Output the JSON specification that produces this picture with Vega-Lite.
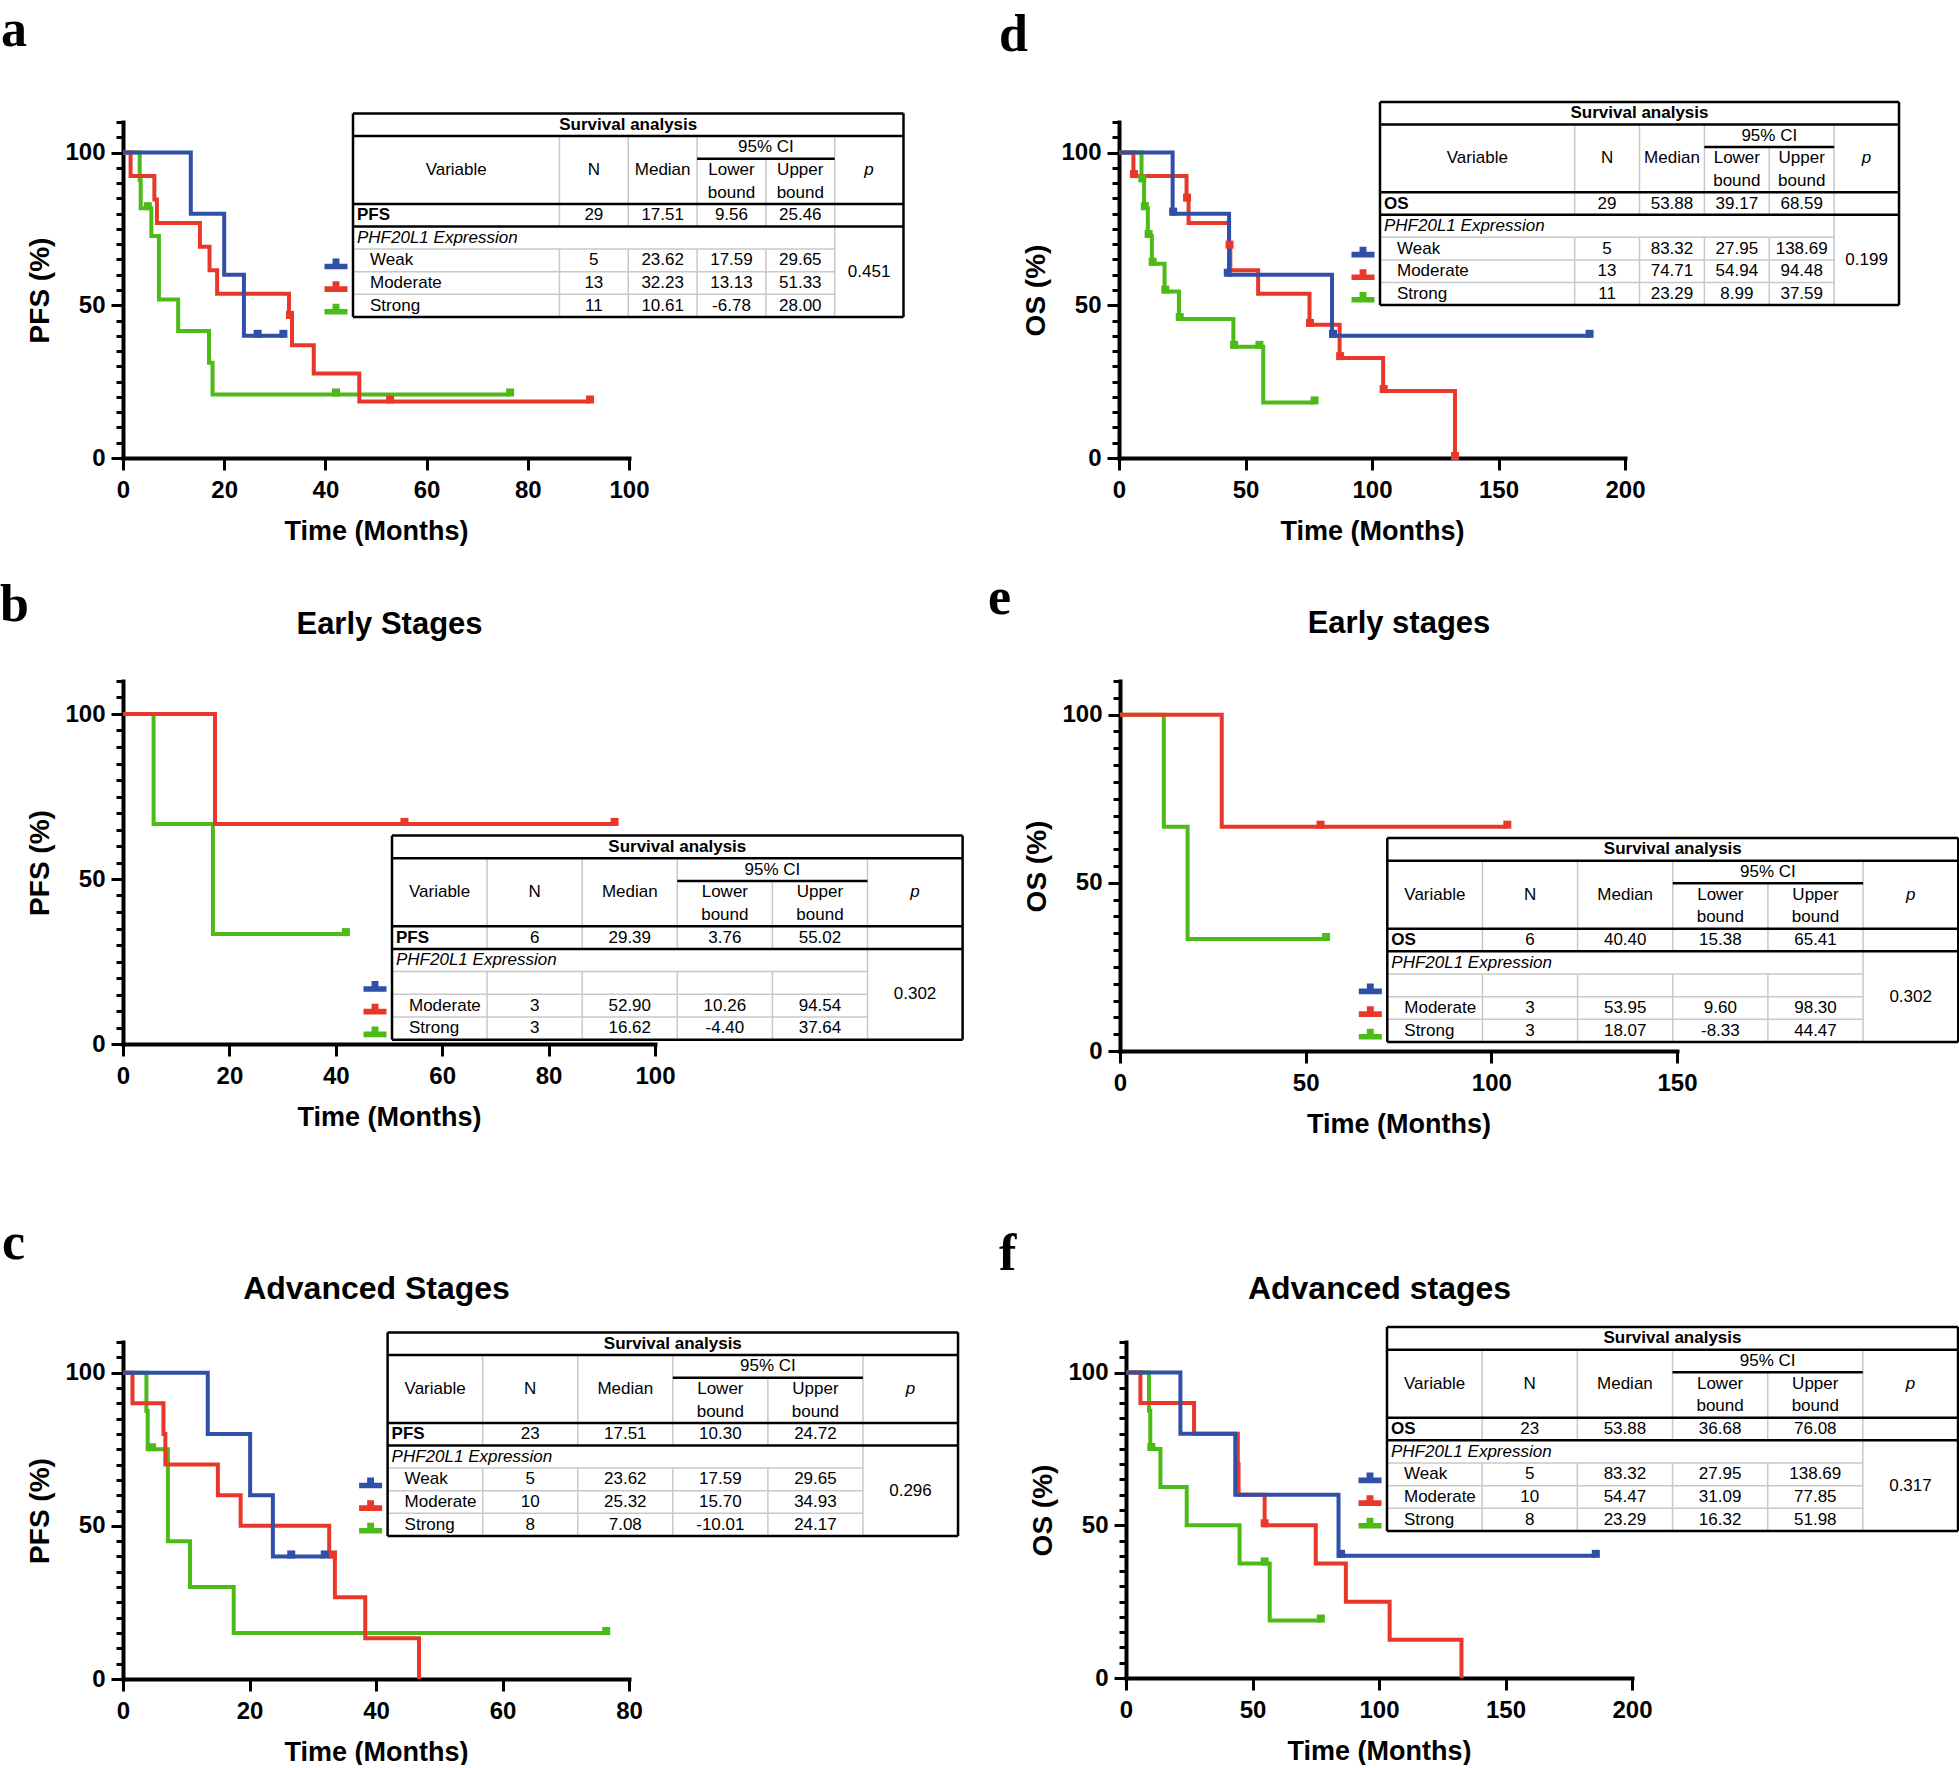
{
"$schema":"https://vega.github.io/schema/vega-lite/v6.json",
"padding":{"top":4,"left":0,"right":0,"bottom":0},
"background":"white",
"config":{"view":{"stroke":null},"font":"Liberation Sans",
"axis":{"domainColor":"black","tickColor":"black","labelColor":"black","titleColor":"black","grid":false,"labelFont":"Liberation Sans","titleFont":"Liberation Sans","labelFontWeight":"bold","titleFontWeight":"bold","labelFontSize":24,"titleFontSize":27,"domainWidth":4,"tickWidth":3,"domainCap":"square","labelFlush":false,"labelOverlap":false},
"axisX":{"tickSize":12,"labelPadding":8,"titlePadding":16},
"axisY":{"tickSize":12,"labelPadding":6,"titlePadding":10,"titleFontSize":28}},
"datasets":{
"grid":[{"c0":"Variable","c1":"p","r0":"weak","r1":"weak"},{"c0":"Variable","c1":"p","r0":"moderate","r1":"moderate"},{"c0":"Variable","c1":"p","r0":"strong","r1":"strong"},{"c0":"N","c1":"N","r0":"h1","r1":"phf"},{"c0":"N","c1":"N","r0":"weak","r1":"end"},{"c0":"Median","c1":"Median","r0":"h1","r1":"phf"},{"c0":"Median","c1":"Median","r0":"weak","r1":"end"},{"c0":"Lower","c1":"Lower","r0":"h1","r1":"phf"},{"c0":"Lower","c1":"Lower","r0":"weak","r1":"end"},{"c0":"Upper","c1":"Upper","r0":"h2","r1":"phf"},{"c0":"Upper","c1":"Upper","r0":"weak","r1":"end"},{"c0":"p","c1":"p","r0":"h1","r1":"end"}],
"border":[{"c0":"Variable","c1":"end","r0":"title","r1":"title"},{"c0":"Variable","c1":"end","r0":"h1","r1":"h1"},{"c0":"Variable","c1":"end","r0":"main","r1":"main"},{"c0":"Variable","c1":"end","r0":"phf","r1":"phf"},{"c0":"Variable","c1":"end","r0":"end","r1":"end"},{"c0":"Lower","c1":"p","r0":"h2","r1":"h2"},{"c0":"Variable","c1":"Variable","r0":"title","r1":"end"},{"c0":"end","c1":"end","r0":"title","r1":"end"}],
"leg":[{"g":"Weak","c":"Variable","r":"weak"},{"g":"Moderate","c":"Variable","r":"moderate"},{"g":"Strong","c":"Variable","r":"strong"}],
"km_a":[{"g":"Strong","t":0,"s":100},{"g":"Strong","t":3.3,"s":90.9},{"g":"Strong","t":3.5,"s":81.8},{"g":"Strong","t":5.6,"s":72.7},{"g":"Strong","t":7.1,"s":51.9},{"g":"Strong","t":10.9,"s":41.6},{"g":"Strong","t":17.0,"s":31.2},{"g":"Strong","t":17.7,"s":20.8},{"g":"Strong","t":76.5,"s":20.8},
{"g":"Moderate","t":0,"s":100},{"g":"Moderate","t":1.5,"s":92.3},{"g":"Moderate","t":6.2,"s":84.6},{"g":"Moderate","t":6.7,"s":76.9},{"g":"Moderate","t":15.2,"s":69.2},{"g":"Moderate","t":17.1,"s":61.5},{"g":"Moderate","t":18.6,"s":53.8},{"g":"Moderate","t":32.8,"s":46.2},{"g":"Moderate","t":33.4,"s":36.9},{"g":"Moderate","t":37.7,"s":27.7},{"g":"Moderate","t":46.7,"s":18.5},{"g":"Moderate","t":92.3,"s":18.5},
{"g":"Weak","t":0,"s":100},{"g":"Weak","t":13.4,"s":80},{"g":"Weak","t":20.0,"s":60},{"g":"Weak","t":23.9,"s":40},{"g":"Weak","t":31.7,"s":40}],
"cen_a":[{"g":"Strong","t":4.9,"s":81.8},{"g":"Strong","t":42.1,"s":20.8},{"g":"Strong","t":76.5,"s":20.8},{"g":"Moderate","t":33.0,"s":46.2},{"g":"Moderate","t":52.8,"s":18.5},{"g":"Moderate","t":92.3,"s":18.5},{"g":"Weak","t":26.6,"s":40},{"g":"Weak","t":31.7,"s":40}],
"km_d":[{"g":"Strong","t":0,"s":100},{"g":"Strong","t":8.9,"s":90.9},{"g":"Strong","t":9.9,"s":81.8},{"g":"Strong","t":11.4,"s":72.7},{"g":"Strong","t":13.0,"s":63.6},{"g":"Strong","t":18.0,"s":54.5},{"g":"Strong","t":23.7,"s":45.5},{"g":"Strong","t":45.2,"s":36.4},{"g":"Strong","t":57.0,"s":18.2},{"g":"Strong","t":77.3,"s":18.2},
{"g":"Moderate","t":0,"s":100},{"g":"Moderate","t":5.7,"s":92.3},{"g":"Moderate","t":26.7,"s":84.6},{"g":"Moderate","t":27.5,"s":76.9},{"g":"Moderate","t":43.5,"s":69.2},{"g":"Moderate","t":44.0,"s":61.5},{"g":"Moderate","t":55.0,"s":53.8},{"g":"Moderate","t":75.3,"s":43.6},{"g":"Moderate","t":87.2,"s":32.7},{"g":"Moderate","t":104.4,"s":21.9},{"g":"Moderate","t":132.8,"s":0},
{"g":"Weak","t":0,"s":100},{"g":"Weak","t":21.2,"s":80},{"g":"Weak","t":43.5,"s":60},{"g":"Weak","t":84.2,"s":40},{"g":"Weak","t":186,"s":40}],
"cen_d":[{"g":"Strong","t":9.2,"s":90.9},{"g":"Strong","t":10.2,"s":81.8},{"g":"Strong","t":11.7,"s":72.7},{"g":"Strong","t":13.3,"s":63.6},{"g":"Strong","t":18.3,"s":54.5},{"g":"Strong","t":24.0,"s":45.5},{"g":"Strong","t":45.5,"s":36.4},{"g":"Strong","t":55.5,"s":36.4},{"g":"Strong","t":77.3,"s":18.2},{"g":"Moderate","t":5.9,"s":92.3},{"g":"Moderate","t":26.9,"s":84.6},{"g":"Moderate","t":43.7,"s":69.2},{"g":"Moderate","t":75.5,"s":43.6},{"g":"Moderate","t":87.4,"s":32.7},{"g":"Moderate","t":104.6,"s":21.9},{"g":"Moderate","t":132.8,"s":0},{"g":"Weak","t":21.4,"s":80},{"g":"Weak","t":43.0,"s":60},{"g":"Weak","t":84.6,"s":40},{"g":"Weak","t":186,"s":40}],
"km_b":[{"g":"Strong","t":0,"s":100},{"g":"Strong","t":5.75,"s":66.7},{"g":"Strong","t":16.9,"s":33.3},{"g":"Strong","t":41.9,"s":33.3},{"g":"Moderate","t":0,"s":100},{"g":"Moderate","t":17.3,"s":66.7},{"g":"Moderate","t":92.4,"s":66.7}],
"cen_b":[{"g":"Strong","t":41.9,"s":33.3},{"g":"Moderate","t":52.9,"s":66.7},{"g":"Moderate","t":92.4,"s":66.7}],
"km_e":[{"g":"Strong","t":0,"s":100},{"g":"Strong","t":11.8,"s":66.7},{"g":"Strong","t":18.2,"s":33.3},{"g":"Strong","t":55.5,"s":33.3},{"g":"Moderate","t":0,"s":100},{"g":"Moderate","t":27.4,"s":66.7},{"g":"Moderate","t":104.3,"s":66.7}],
"cen_e":[{"g":"Strong","t":55.5,"s":33.3},{"g":"Moderate","t":54.0,"s":66.7},{"g":"Moderate","t":104.3,"s":66.7}],
"km_c":[{"g":"Strong","t":0,"s":100},{"g":"Strong","t":3.7,"s":87.5},{"g":"Strong","t":3.9,"s":75},{"g":"Strong","t":7.1,"s":45},{"g":"Strong","t":10.6,"s":30},{"g":"Strong","t":17.5,"s":15},{"g":"Strong","t":76.4,"s":15},
{"g":"Moderate","t":0,"s":100},{"g":"Moderate","t":1.5,"s":90},{"g":"Moderate","t":6.4,"s":80},{"g":"Moderate","t":6.7,"s":70},{"g":"Moderate","t":15.0,"s":60},{"g":"Moderate","t":18.6,"s":50},{"g":"Moderate","t":32.6,"s":40},{"g":"Moderate","t":33.5,"s":26.7},{"g":"Moderate","t":38.3,"s":13.3},{"g":"Moderate","t":46.8,"s":0},
{"g":"Weak","t":0,"s":100},{"g":"Weak","t":13.4,"s":80},{"g":"Weak","t":20.1,"s":60},{"g":"Weak","t":23.7,"s":40},{"g":"Weak","t":31.9,"s":40}],
"cen_c":[{"g":"Strong","t":4.6,"s":75},{"g":"Strong","t":76.4,"s":15},{"g":"Moderate","t":33.2,"s":40},{"g":"Weak","t":26.6,"s":40},{"g":"Weak","t":31.9,"s":40}],
"km_f":[{"g":"Strong","t":0,"s":100},{"g":"Strong","t":9.1,"s":87.5},{"g":"Strong","t":9.6,"s":75},{"g":"Strong","t":13.6,"s":62.5},{"g":"Strong","t":24.0,"s":50},{"g":"Strong","t":44.9,"s":37.5},{"g":"Strong","t":56.8,"s":18.8},{"g":"Strong","t":77.0,"s":18.8},
{"g":"Moderate","t":0,"s":100},{"g":"Moderate","t":5.7,"s":90},{"g":"Moderate","t":26.9,"s":80},{"g":"Moderate","t":44.2,"s":70},{"g":"Moderate","t":44.5,"s":60},{"g":"Moderate","t":54.8,"s":50},{"g":"Moderate","t":75.0,"s":37.5},{"g":"Moderate","t":86.9,"s":25},{"g":"Moderate","t":104.2,"s":12.5},{"g":"Moderate","t":132.6,"s":0},
{"g":"Weak","t":0,"s":100},{"g":"Weak","t":21.5,"s":80},{"g":"Weak","t":43.2,"s":60},{"g":"Weak","t":84.0,"s":40},{"g":"Weak","t":185.7,"s":40}],
"cen_f":[{"g":"Strong","t":10.0,"s":75},{"g":"Strong","t":54.8,"s":37.5},{"g":"Strong","t":77.0,"s":18.8},{"g":"Moderate","t":54.8,"s":50},{"g":"Weak","t":85.0,"s":40},{"g":"Weak","t":185.7,"s":40}],
"txt_a":[{"k":"title","c":"Median","r":"title","v":"Survival analysis"},{"k":"ci","c":"Upper","r":"h1","v":"95% CI"},{"k":"cell","c":"V2","r":"h2","v":"Variable"},{"k":"cell","c":"N","r":"h2","v":"N"},{"k":"cell","c":"Median","r":"h2","v":"Median"},{"k":"cell","c":"Lower","r":"h2","v":"Lower"},{"k":"cell","c":"Lower","r":"h3","v":"bound"},{"k":"cell","c":"Upper","r":"h2","v":"Upper"},{"k":"cell","c":"Upper","r":"h3","v":"bound"},{"k":"pi","c":"p","r":"h2","v":"p"},
{"k":"main","c":"Variable","r":"main","v":"PFS"},{"k":"cell","c":"N","r":"main","v":"29"},{"k":"cell","c":"Median","r":"main","v":"17.51"},{"k":"cell","c":"Lower","r":"main","v":"9.56"},{"k":"cell","c":"Upper","r":"main","v":"25.46"},
{"k":"sub","c":"Variable","r":"phf","v":"PHF20L1 Expression"},
{"k":"grp","c":"Variable","r":"weak","v":"Weak"},{"k":"cell","c":"N","r":"weak","v":"5"},{"k":"cell","c":"Median","r":"weak","v":"23.62"},{"k":"cell","c":"Lower","r":"weak","v":"17.59"},{"k":"cell","c":"Upper","r":"weak","v":"29.65"},
{"k":"grp","c":"Variable","r":"moderate","v":"Moderate"},{"k":"cell","c":"N","r":"moderate","v":"13"},{"k":"cell","c":"Median","r":"moderate","v":"32.23"},{"k":"cell","c":"Lower","r":"moderate","v":"13.13"},{"k":"cell","c":"Upper","r":"moderate","v":"51.33"},
{"k":"grp","c":"Variable","r":"strong","v":"Strong"},{"k":"cell","c":"N","r":"strong","v":"11"},{"k":"cell","c":"Median","r":"strong","v":"10.61"},{"k":"cell","c":"Lower","r":"strong","v":"-6.78"},{"k":"cell","c":"Upper","r":"strong","v":"28.00"},
{"k":"pval","c":"p","r":"moderate","v":"0.451"}],
"txt_d":[{"k":"title","c":"Median","r":"title","v":"Survival analysis"},{"k":"ci","c":"Upper","r":"h1","v":"95% CI"},{"k":"cell","c":"V2","r":"h2","v":"Variable"},{"k":"cell","c":"N","r":"h2","v":"N"},{"k":"cell","c":"Median","r":"h2","v":"Median"},{"k":"cell","c":"Lower","r":"h2","v":"Lower"},{"k":"cell","c":"Lower","r":"h3","v":"bound"},{"k":"cell","c":"Upper","r":"h2","v":"Upper"},{"k":"cell","c":"Upper","r":"h3","v":"bound"},{"k":"pi","c":"p","r":"h2","v":"p"},
{"k":"main","c":"Variable","r":"main","v":"OS"},{"k":"cell","c":"N","r":"main","v":"29"},{"k":"cell","c":"Median","r":"main","v":"53.88"},{"k":"cell","c":"Lower","r":"main","v":"39.17"},{"k":"cell","c":"Upper","r":"main","v":"68.59"},
{"k":"sub","c":"Variable","r":"phf","v":"PHF20L1 Expression"},
{"k":"grp","c":"Variable","r":"weak","v":"Weak"},{"k":"cell","c":"N","r":"weak","v":"5"},{"k":"cell","c":"Median","r":"weak","v":"83.32"},{"k":"cell","c":"Lower","r":"weak","v":"27.95"},{"k":"cell","c":"Upper","r":"weak","v":"138.69"},
{"k":"grp","c":"Variable","r":"moderate","v":"Moderate"},{"k":"cell","c":"N","r":"moderate","v":"13"},{"k":"cell","c":"Median","r":"moderate","v":"74.71"},{"k":"cell","c":"Lower","r":"moderate","v":"54.94"},{"k":"cell","c":"Upper","r":"moderate","v":"94.48"},
{"k":"grp","c":"Variable","r":"strong","v":"Strong"},{"k":"cell","c":"N","r":"strong","v":"11"},{"k":"cell","c":"Median","r":"strong","v":"23.29"},{"k":"cell","c":"Lower","r":"strong","v":"8.99"},{"k":"cell","c":"Upper","r":"strong","v":"37.59"},
{"k":"pval","c":"p","r":"moderate","v":"0.199"}],
"txt_b":[{"k":"title","c":"Lower","r":"title","v":"Survival analysis"},{"k":"ci","c":"Upper","r":"h1","v":"95% CI"},{"k":"cell","c":"Variable","r":"h2","v":"Variable"},{"k":"cell","c":"N","r":"h2","v":"N"},{"k":"cell","c":"Median","r":"h2","v":"Median"},{"k":"cell","c":"Lower","r":"h2","v":"Lower"},{"k":"cell","c":"Lower","r":"h3","v":"bound"},{"k":"cell","c":"Upper","r":"h2","v":"Upper"},{"k":"cell","c":"Upper","r":"h3","v":"bound"},{"k":"pi","c":"p","r":"h2","v":"p"},
{"k":"main","c":"Variable","r":"main","v":"PFS"},{"k":"cell","c":"N","r":"main","v":"6"},{"k":"cell","c":"Median","r":"main","v":"29.39"},{"k":"cell","c":"Lower","r":"main","v":"3.76"},{"k":"cell","c":"Upper","r":"main","v":"55.02"},
{"k":"sub","c":"Variable","r":"phf","v":"PHF20L1 Expression"},
{"k":"grp","c":"Variable","r":"moderate","v":"Moderate"},{"k":"cell","c":"N","r":"moderate","v":"3"},{"k":"cell","c":"Median","r":"moderate","v":"52.90"},{"k":"cell","c":"Lower","r":"moderate","v":"10.26"},{"k":"cell","c":"Upper","r":"moderate","v":"94.54"},
{"k":"grp","c":"Variable","r":"strong","v":"Strong"},{"k":"cell","c":"N","r":"strong","v":"3"},{"k":"cell","c":"Median","r":"strong","v":"16.62"},{"k":"cell","c":"Lower","r":"strong","v":"-4.40"},{"k":"cell","c":"Upper","r":"strong","v":"37.64"},
{"k":"pval","c":"p","r":"moderate","v":"0.302"}],
"txt_e":[{"k":"title","c":"Lower","r":"title","v":"Survival analysis"},{"k":"ci","c":"Upper","r":"h1","v":"95% CI"},{"k":"cell","c":"Variable","r":"h2","v":"Variable"},{"k":"cell","c":"N","r":"h2","v":"N"},{"k":"cell","c":"Median","r":"h2","v":"Median"},{"k":"cell","c":"Lower","r":"h2","v":"Lower"},{"k":"cell","c":"Lower","r":"h3","v":"bound"},{"k":"cell","c":"Upper","r":"h2","v":"Upper"},{"k":"cell","c":"Upper","r":"h3","v":"bound"},{"k":"pi","c":"p","r":"h2","v":"p"},
{"k":"main","c":"Variable","r":"main","v":"OS"},{"k":"cell","c":"N","r":"main","v":"6"},{"k":"cell","c":"Median","r":"main","v":"40.40"},{"k":"cell","c":"Lower","r":"main","v":"15.38"},{"k":"cell","c":"Upper","r":"main","v":"65.41"},
{"k":"sub","c":"Variable","r":"phf","v":"PHF20L1 Expression"},
{"k":"grp","c":"Variable","r":"moderate","v":"Moderate"},{"k":"cell","c":"N","r":"moderate","v":"3"},{"k":"cell","c":"Median","r":"moderate","v":"53.95"},{"k":"cell","c":"Lower","r":"moderate","v":"9.60"},{"k":"cell","c":"Upper","r":"moderate","v":"98.30"},
{"k":"grp","c":"Variable","r":"strong","v":"Strong"},{"k":"cell","c":"N","r":"strong","v":"3"},{"k":"cell","c":"Median","r":"strong","v":"18.07"},{"k":"cell","c":"Lower","r":"strong","v":"-8.33"},{"k":"cell","c":"Upper","r":"strong","v":"44.47"},
{"k":"pval","c":"p","r":"moderate","v":"0.302"}],
"txt_c":[{"k":"title","c":"Lower","r":"title","v":"Survival analysis"},{"k":"ci","c":"Upper","r":"h1","v":"95% CI"},{"k":"cell","c":"Variable","r":"h2","v":"Variable"},{"k":"cell","c":"N","r":"h2","v":"N"},{"k":"cell","c":"Median","r":"h2","v":"Median"},{"k":"cell","c":"Lower","r":"h2","v":"Lower"},{"k":"cell","c":"Lower","r":"h3","v":"bound"},{"k":"cell","c":"Upper","r":"h2","v":"Upper"},{"k":"cell","c":"Upper","r":"h3","v":"bound"},{"k":"pi","c":"p","r":"h2","v":"p"},
{"k":"main","c":"Variable","r":"main","v":"PFS"},{"k":"cell","c":"N","r":"main","v":"23"},{"k":"cell","c":"Median","r":"main","v":"17.51"},{"k":"cell","c":"Lower","r":"main","v":"10.30"},{"k":"cell","c":"Upper","r":"main","v":"24.72"},
{"k":"sub","c":"Variable","r":"phf","v":"PHF20L1 Expression"},
{"k":"grp","c":"Variable","r":"weak","v":"Weak"},{"k":"cell","c":"N","r":"weak","v":"5"},{"k":"cell","c":"Median","r":"weak","v":"23.62"},{"k":"cell","c":"Lower","r":"weak","v":"17.59"},{"k":"cell","c":"Upper","r":"weak","v":"29.65"},
{"k":"grp","c":"Variable","r":"moderate","v":"Moderate"},{"k":"cell","c":"N","r":"moderate","v":"10"},{"k":"cell","c":"Median","r":"moderate","v":"25.32"},{"k":"cell","c":"Lower","r":"moderate","v":"15.70"},{"k":"cell","c":"Upper","r":"moderate","v":"34.93"},
{"k":"grp","c":"Variable","r":"strong","v":"Strong"},{"k":"cell","c":"N","r":"strong","v":"8"},{"k":"cell","c":"Median","r":"strong","v":"7.08"},{"k":"cell","c":"Lower","r":"strong","v":"-10.01"},{"k":"cell","c":"Upper","r":"strong","v":"24.17"},
{"k":"pval","c":"p","r":"moderate","v":"0.296"}],
"txt_f":[{"k":"title","c":"Lower","r":"title","v":"Survival analysis"},{"k":"ci","c":"Upper","r":"h1","v":"95% CI"},{"k":"cell","c":"Variable","r":"h2","v":"Variable"},{"k":"cell","c":"N","r":"h2","v":"N"},{"k":"cell","c":"Median","r":"h2","v":"Median"},{"k":"cell","c":"Lower","r":"h2","v":"Lower"},{"k":"cell","c":"Lower","r":"h3","v":"bound"},{"k":"cell","c":"Upper","r":"h2","v":"Upper"},{"k":"cell","c":"Upper","r":"h3","v":"bound"},{"k":"pi","c":"p","r":"h2","v":"p"},
{"k":"main","c":"Variable","r":"main","v":"OS"},{"k":"cell","c":"N","r":"main","v":"23"},{"k":"cell","c":"Median","r":"main","v":"53.88"},{"k":"cell","c":"Lower","r":"main","v":"36.68"},{"k":"cell","c":"Upper","r":"main","v":"76.08"},
{"k":"sub","c":"Variable","r":"phf","v":"PHF20L1 Expression"},
{"k":"grp","c":"Variable","r":"weak","v":"Weak"},{"k":"cell","c":"N","r":"weak","v":"5"},{"k":"cell","c":"Median","r":"weak","v":"83.32"},{"k":"cell","c":"Lower","r":"weak","v":"27.95"},{"k":"cell","c":"Upper","r":"weak","v":"138.69"},
{"k":"grp","c":"Variable","r":"moderate","v":"Moderate"},{"k":"cell","c":"N","r":"moderate","v":"10"},{"k":"cell","c":"Median","r":"moderate","v":"54.47"},{"k":"cell","c":"Lower","r":"moderate","v":"31.09"},{"k":"cell","c":"Upper","r":"moderate","v":"77.85"},
{"k":"grp","c":"Variable","r":"strong","v":"Strong"},{"k":"cell","c":"N","r":"strong","v":"8"},{"k":"cell","c":"Median","r":"strong","v":"23.29"},{"k":"cell","c":"Lower","r":"strong","v":"16.32"},{"k":"cell","c":"Upper","r":"strong","v":"51.98"},
{"k":"pval","c":"p","r":"moderate","v":"0.317"}]
},
"vconcat":[
{"vconcat":[
{"hconcat":[
{"width":506,"height":336,
"title":{"text":"a","anchor":"start","frame":"group","dx":-122,"dy":-14,"offset":0,"baseline":"alphabetic","font":"Liberation Serif","fontSize":52,"fontWeight":"bold","color":"black"},
"layer":[
{"data":{"name":"km_a"},"mark":{"type":"line","interpolate":"step-after","strokeWidth":4},"encoding":{"x":{"field":"t","type":"quantitative","scale":{"domain":[0,100],"nice":false,"zero":false},"axis":{"orient":"bottom","values":[0,20,40,60,80,100],"title":"Time (Months)"}},"y":{"field":"s","type":"quantitative","scale":{"domain":[0,110],"nice":false,"zero":false},"axis":{"orient":"left","values":[0,50,100],"title":"PFS (%)"}},"color":{"field":"g","type":"nominal","scale":{"domain":["Weak","Moderate","Strong"],"range":["#2f4fa8","#e8382a","#4dbb17"]},"legend":null}}},
{"data":{"name":"cen_a"},"mark":{"type":"point","shape":"square","size":64,"filled":true,"opacity":1,"strokeWidth":0,"yOffset":-2},"encoding":{"x":{"field":"t","type":"quantitative","scale":{"domain":[0,100],"nice":false,"zero":false},"axis":null},"y":{"field":"s","type":"quantitative","scale":{"domain":[0,110],"nice":false,"zero":false},"axis":{"orient":"left","values":[0,5,10,15,20,25,30,35,40,45,50,55,60,65,70,75,80,85,90,95,100,105,110],"labels":false,"title":null,"tickSize":7,"domain":false}},"color":{"field":"g","type":"nominal","scale":{"domain":["Weak","Moderate","Strong"],"range":["#2f4fa8","#e8382a","#4dbb17"]},"legend":null}}},
{"layer":[
{"data":{"name":"grid"},"mark":{"type":"rule","color":"#c8c8c8","strokeWidth":1.5},"encoding":{"x":{"field":"c0","type":"ordinal","bandPosition":0,"scale":{"type":"band","domain":["Variable","V2","V3","N","Median","Lower","Upper","p","end"],"range":[230,849.3],"paddingInner":0,"paddingOuter":0},"axis":null},"x2":{"field":"c1","bandPosition":0},"y":{"field":"r0","type":"ordinal","bandPosition":0,"scale":{"type":"band","domain":["title","h1","h2","h3","main","phf","weak","moderate","strong","end"],"range":[-8.6,217.6],"paddingInner":0,"paddingOuter":0},"axis":null},"y2":{"field":"r1","bandPosition":0}}},
{"data":{"name":"border"},"mark":{"type":"rule","color":"black","strokeWidth":2.5},"encoding":{"x":{"field":"c0","type":"ordinal","bandPosition":0,"scale":{"type":"band","domain":["Variable","V2","V3","N","Median","Lower","Upper","p","end"],"range":[230,849.3],"paddingInner":0,"paddingOuter":0},"axis":null},"x2":{"field":"c1","bandPosition":0},"y":{"field":"r0","type":"ordinal","bandPosition":0,"scale":{"type":"band","domain":["title","h1","h2","h3","main","phf","weak","moderate","strong","end"],"range":[-8.6,217.6],"paddingInner":0,"paddingOuter":0},"axis":null},"y2":{"field":"r1","bandPosition":0}}},
{"data":{"name":"txt_a"},"transform":[{"filter":"datum.k==='cell'"}],"mark":{"type":"text","font":"Liberation Sans","fontSize":17,"color":"black","align":"center","baseline":"middle"},"encoding":{"x":{"field":"c","type":"ordinal","bandPosition":0.5,"scale":{"type":"band","domain":["Variable","V2","V3","N","Median","Lower","Upper","p","end"],"range":[230,849.3],"paddingInner":0,"paddingOuter":0},"axis":null},"y":{"field":"r","type":"ordinal","bandPosition":0.5,"scale":{"type":"band","domain":["title","h1","h2","h3","main","phf","weak","moderate","strong","end"],"range":[-8.6,217.6],"paddingInner":0,"paddingOuter":0},"axis":null},"text":{"field":"v"}}},
{"data":{"name":"txt_a"},"transform":[{"filter":"datum.k==='ci'"}],"mark":{"type":"text","font":"Liberation Sans","fontSize":17,"color":"black","align":"center","baseline":"middle"},"encoding":{"x":{"field":"c","type":"ordinal","bandPosition":0,"scale":{"type":"band","domain":["Variable","V2","V3","N","Median","Lower","Upper","p","end"],"range":[230,849.3],"paddingInner":0,"paddingOuter":0},"axis":null},"y":{"field":"r","type":"ordinal","bandPosition":0.5,"scale":{"type":"band","domain":["title","h1","h2","h3","main","phf","weak","moderate","strong","end"],"range":[-8.6,217.6],"paddingInner":0,"paddingOuter":0},"axis":null},"text":{"field":"v"}}},
{"data":{"name":"txt_a"},"transform":[{"filter":"datum.k==='title'"}],"mark":{"type":"text","font":"Liberation Sans","fontSize":17,"fontWeight":"bold","color":"black","align":"center","baseline":"middle"},"encoding":{"x":{"field":"c","type":"ordinal","bandPosition":0,"scale":{"type":"band","domain":["Variable","V2","V3","N","Median","Lower","Upper","p","end"],"range":[230,849.3],"paddingInner":0,"paddingOuter":0},"axis":null},"y":{"field":"r","type":"ordinal","bandPosition":0.5,"scale":{"type":"band","domain":["title","h1","h2","h3","main","phf","weak","moderate","strong","end"],"range":[-8.6,217.6],"paddingInner":0,"paddingOuter":0},"axis":null},"text":{"field":"v"}}},
{"data":{"name":"txt_a"},"transform":[{"filter":"datum.k==='pi'"}],"mark":{"type":"text","font":"Liberation Sans","fontSize":17,"fontStyle":"italic","color":"black","align":"center","baseline":"middle"},"encoding":{"x":{"field":"c","type":"ordinal","bandPosition":0.5,"scale":{"type":"band","domain":["Variable","V2","V3","N","Median","Lower","Upper","p","end"],"range":[230,849.3],"paddingInner":0,"paddingOuter":0},"axis":null},"y":{"field":"r","type":"ordinal","bandPosition":0.5,"scale":{"type":"band","domain":["title","h1","h2","h3","main","phf","weak","moderate","strong","end"],"range":[-8.6,217.6],"paddingInner":0,"paddingOuter":0},"axis":null},"text":{"field":"v"}}},
{"data":{"name":"txt_a"},"transform":[{"filter":"datum.k==='main'"}],"mark":{"type":"text","font":"Liberation Sans","fontSize":17,"fontWeight":"bold","color":"black","align":"left","baseline":"middle","dx":4},"encoding":{"x":{"field":"c","type":"ordinal","bandPosition":0,"scale":{"type":"band","domain":["Variable","V2","V3","N","Median","Lower","Upper","p","end"],"range":[230,849.3],"paddingInner":0,"paddingOuter":0},"axis":null},"y":{"field":"r","type":"ordinal","bandPosition":0.5,"scale":{"type":"band","domain":["title","h1","h2","h3","main","phf","weak","moderate","strong","end"],"range":[-8.6,217.6],"paddingInner":0,"paddingOuter":0},"axis":null},"text":{"field":"v"}}},
{"data":{"name":"txt_a"},"transform":[{"filter":"datum.k==='sub'"}],"mark":{"type":"text","font":"Liberation Sans","fontSize":17,"fontStyle":"italic","color":"black","align":"left","baseline":"middle","dx":4},"encoding":{"x":{"field":"c","type":"ordinal","bandPosition":0,"scale":{"type":"band","domain":["Variable","V2","V3","N","Median","Lower","Upper","p","end"],"range":[230,849.3],"paddingInner":0,"paddingOuter":0},"axis":null},"y":{"field":"r","type":"ordinal","bandPosition":0.5,"scale":{"type":"band","domain":["title","h1","h2","h3","main","phf","weak","moderate","strong","end"],"range":[-8.6,217.6],"paddingInner":0,"paddingOuter":0},"axis":null},"text":{"field":"v"}}},
{"data":{"name":"txt_a"},"transform":[{"filter":"datum.k==='grp'"}],"mark":{"type":"text","font":"Liberation Sans","fontSize":17,"color":"black","align":"left","baseline":"middle","dx":17},"encoding":{"x":{"field":"c","type":"ordinal","bandPosition":0,"scale":{"type":"band","domain":["Variable","V2","V3","N","Median","Lower","Upper","p","end"],"range":[230,849.3],"paddingInner":0,"paddingOuter":0},"axis":null},"y":{"field":"r","type":"ordinal","bandPosition":0.5,"scale":{"type":"band","domain":["title","h1","h2","h3","main","phf","weak","moderate","strong","end"],"range":[-8.6,217.6],"paddingInner":0,"paddingOuter":0},"axis":null},"text":{"field":"v"}}},
{"data":{"name":"txt_a"},"transform":[{"filter":"datum.k==='pval'"}],"mark":{"type":"text","font":"Liberation Sans","fontSize":17,"color":"black","align":"center","baseline":"middle"},"encoding":{"x":{"field":"c","type":"ordinal","bandPosition":0.5,"scale":{"type":"band","domain":["Variable","V2","V3","N","Median","Lower","Upper","p","end"],"range":[230,849.3],"paddingInner":0,"paddingOuter":0},"axis":null},"y":{"field":"r","type":"ordinal","bandPosition":0,"scale":{"type":"band","domain":["title","h1","h2","h3","main","phf","weak","moderate","strong","end"],"range":[-8.6,217.6],"paddingInner":0,"paddingOuter":0},"axis":null},"text":{"field":"v"}}},
{"data":{"name":"leg"},"mark":{"type":"point","shape":"M-1,0.28H-0.3V-0.16H0.3V0.28H1V0.77H-1Z","size":529,"filled":true,"opacity":1,"strokeWidth":0,"xOffset":-17},"encoding":{"x":{"field":"c","type":"ordinal","bandPosition":0,"scale":{"type":"band","domain":["Variable","V2","V3","N","Median","Lower","Upper","p","end"],"range":[230,849.3],"paddingInner":0,"paddingOuter":0},"axis":null},"y":{"field":"r","type":"ordinal","bandPosition":0.5,"scale":{"type":"band","domain":["title","h1","h2","h3","main","phf","weak","moderate","strong","end"],"range":[-8.6,217.6],"paddingInner":0,"paddingOuter":0},"axis":null},"color":{"field":"g","type":"nominal","scale":{"domain":["Weak","Moderate","Strong"],"range":["#2f4fa8","#e8382a","#4dbb17"]},"legend":null}}}
]}
],
"resolve":{"scale":{"x":"independent","y":"independent"}}},
{"width":506,"height":336,
"title":{"text":"d","anchor":"start","frame":"group","dx":-120,"dy":2,"offset":0,"baseline":"alphabetic","font":"Liberation Serif","fontSize":52,"fontWeight":"bold","color":"black"},
"layer":[
{"data":{"name":"km_d"},"mark":{"type":"line","interpolate":"step-after","strokeWidth":4},"encoding":{"x":{"field":"t","type":"quantitative","scale":{"domain":[0,200],"nice":false,"zero":false},"axis":{"orient":"bottom","values":[0,50,100,150,200],"title":"Time (Months)"}},"y":{"field":"s","type":"quantitative","scale":{"domain":[0,110],"nice":false,"zero":false},"axis":{"orient":"left","values":[0,50,100],"title":"OS (%)"}},"color":{"field":"g","type":"nominal","scale":{"domain":["Weak","Moderate","Strong"],"range":["#2f4fa8","#e8382a","#4dbb17"]},"legend":null}}},
{"data":{"name":"cen_d"},"mark":{"type":"point","shape":"square","size":64,"filled":true,"opacity":1,"strokeWidth":0,"yOffset":-2},"encoding":{"x":{"field":"t","type":"quantitative","scale":{"domain":[0,200],"nice":false,"zero":false},"axis":null},"y":{"field":"s","type":"quantitative","scale":{"domain":[0,110],"nice":false,"zero":false},"axis":{"orient":"left","values":[0,5,10,15,20,25,30,35,40,45,50,55,60,65,70,75,80,85,90,95,100,105,110],"labels":false,"title":null,"tickSize":7,"domain":false}},"color":{"field":"g","type":"nominal","scale":{"domain":["Weak","Moderate","Strong"],"range":["#2f4fa8","#e8382a","#4dbb17"]},"legend":null}}},
{"layer":[
{"data":{"name":"grid"},"mark":{"type":"rule","color":"#c8c8c8","strokeWidth":1.5},"encoding":{"x":{"field":"c0","type":"ordinal","bandPosition":0,"scale":{"type":"band","domain":["Variable","V2","V3","N","Median","Lower","Upper","p","end"],"range":[261,844.9],"paddingInner":0,"paddingOuter":0},"axis":null},"x2":{"field":"c1","bandPosition":0},"y":{"field":"r0","type":"ordinal","bandPosition":0,"scale":{"type":"band","domain":["title","h1","h2","h3","main","phf","weak","moderate","strong","end"],"range":[-20,205.6],"paddingInner":0,"paddingOuter":0},"axis":null},"y2":{"field":"r1","bandPosition":0}}},
{"data":{"name":"border"},"mark":{"type":"rule","color":"black","strokeWidth":2.5},"encoding":{"x":{"field":"c0","type":"ordinal","bandPosition":0,"scale":{"type":"band","domain":["Variable","V2","V3","N","Median","Lower","Upper","p","end"],"range":[261,844.9],"paddingInner":0,"paddingOuter":0},"axis":null},"x2":{"field":"c1","bandPosition":0},"y":{"field":"r0","type":"ordinal","bandPosition":0,"scale":{"type":"band","domain":["title","h1","h2","h3","main","phf","weak","moderate","strong","end"],"range":[-20,205.6],"paddingInner":0,"paddingOuter":0},"axis":null},"y2":{"field":"r1","bandPosition":0}}},
{"data":{"name":"txt_d"},"transform":[{"filter":"datum.k==='cell'"}],"mark":{"type":"text","font":"Liberation Sans","fontSize":17,"color":"black","align":"center","baseline":"middle"},"encoding":{"x":{"field":"c","type":"ordinal","bandPosition":0.5,"scale":{"type":"band","domain":["Variable","V2","V3","N","Median","Lower","Upper","p","end"],"range":[261,844.9],"paddingInner":0,"paddingOuter":0},"axis":null},"y":{"field":"r","type":"ordinal","bandPosition":0.5,"scale":{"type":"band","domain":["title","h1","h2","h3","main","phf","weak","moderate","strong","end"],"range":[-20,205.6],"paddingInner":0,"paddingOuter":0},"axis":null},"text":{"field":"v"}}},
{"data":{"name":"txt_d"},"transform":[{"filter":"datum.k==='ci'"}],"mark":{"type":"text","font":"Liberation Sans","fontSize":17,"color":"black","align":"center","baseline":"middle"},"encoding":{"x":{"field":"c","type":"ordinal","bandPosition":0,"scale":{"type":"band","domain":["Variable","V2","V3","N","Median","Lower","Upper","p","end"],"range":[261,844.9],"paddingInner":0,"paddingOuter":0},"axis":null},"y":{"field":"r","type":"ordinal","bandPosition":0.5,"scale":{"type":"band","domain":["title","h1","h2","h3","main","phf","weak","moderate","strong","end"],"range":[-20,205.6],"paddingInner":0,"paddingOuter":0},"axis":null},"text":{"field":"v"}}},
{"data":{"name":"txt_d"},"transform":[{"filter":"datum.k==='title'"}],"mark":{"type":"text","font":"Liberation Sans","fontSize":17,"fontWeight":"bold","color":"black","align":"center","baseline":"middle"},"encoding":{"x":{"field":"c","type":"ordinal","bandPosition":0,"scale":{"type":"band","domain":["Variable","V2","V3","N","Median","Lower","Upper","p","end"],"range":[261,844.9],"paddingInner":0,"paddingOuter":0},"axis":null},"y":{"field":"r","type":"ordinal","bandPosition":0.5,"scale":{"type":"band","domain":["title","h1","h2","h3","main","phf","weak","moderate","strong","end"],"range":[-20,205.6],"paddingInner":0,"paddingOuter":0},"axis":null},"text":{"field":"v"}}},
{"data":{"name":"txt_d"},"transform":[{"filter":"datum.k==='pi'"}],"mark":{"type":"text","font":"Liberation Sans","fontSize":17,"fontStyle":"italic","color":"black","align":"center","baseline":"middle"},"encoding":{"x":{"field":"c","type":"ordinal","bandPosition":0.5,"scale":{"type":"band","domain":["Variable","V2","V3","N","Median","Lower","Upper","p","end"],"range":[261,844.9],"paddingInner":0,"paddingOuter":0},"axis":null},"y":{"field":"r","type":"ordinal","bandPosition":0.5,"scale":{"type":"band","domain":["title","h1","h2","h3","main","phf","weak","moderate","strong","end"],"range":[-20,205.6],"paddingInner":0,"paddingOuter":0},"axis":null},"text":{"field":"v"}}},
{"data":{"name":"txt_d"},"transform":[{"filter":"datum.k==='main'"}],"mark":{"type":"text","font":"Liberation Sans","fontSize":17,"fontWeight":"bold","color":"black","align":"left","baseline":"middle","dx":4},"encoding":{"x":{"field":"c","type":"ordinal","bandPosition":0,"scale":{"type":"band","domain":["Variable","V2","V3","N","Median","Lower","Upper","p","end"],"range":[261,844.9],"paddingInner":0,"paddingOuter":0},"axis":null},"y":{"field":"r","type":"ordinal","bandPosition":0.5,"scale":{"type":"band","domain":["title","h1","h2","h3","main","phf","weak","moderate","strong","end"],"range":[-20,205.6],"paddingInner":0,"paddingOuter":0},"axis":null},"text":{"field":"v"}}},
{"data":{"name":"txt_d"},"transform":[{"filter":"datum.k==='sub'"}],"mark":{"type":"text","font":"Liberation Sans","fontSize":17,"fontStyle":"italic","color":"black","align":"left","baseline":"middle","dx":4},"encoding":{"x":{"field":"c","type":"ordinal","bandPosition":0,"scale":{"type":"band","domain":["Variable","V2","V3","N","Median","Lower","Upper","p","end"],"range":[261,844.9],"paddingInner":0,"paddingOuter":0},"axis":null},"y":{"field":"r","type":"ordinal","bandPosition":0.5,"scale":{"type":"band","domain":["title","h1","h2","h3","main","phf","weak","moderate","strong","end"],"range":[-20,205.6],"paddingInner":0,"paddingOuter":0},"axis":null},"text":{"field":"v"}}},
{"data":{"name":"txt_d"},"transform":[{"filter":"datum.k==='grp'"}],"mark":{"type":"text","font":"Liberation Sans","fontSize":17,"color":"black","align":"left","baseline":"middle","dx":17},"encoding":{"x":{"field":"c","type":"ordinal","bandPosition":0,"scale":{"type":"band","domain":["Variable","V2","V3","N","Median","Lower","Upper","p","end"],"range":[261,844.9],"paddingInner":0,"paddingOuter":0},"axis":null},"y":{"field":"r","type":"ordinal","bandPosition":0.5,"scale":{"type":"band","domain":["title","h1","h2","h3","main","phf","weak","moderate","strong","end"],"range":[-20,205.6],"paddingInner":0,"paddingOuter":0},"axis":null},"text":{"field":"v"}}},
{"data":{"name":"txt_d"},"transform":[{"filter":"datum.k==='pval'"}],"mark":{"type":"text","font":"Liberation Sans","fontSize":17,"color":"black","align":"center","baseline":"middle"},"encoding":{"x":{"field":"c","type":"ordinal","bandPosition":0.5,"scale":{"type":"band","domain":["Variable","V2","V3","N","Median","Lower","Upper","p","end"],"range":[261,844.9],"paddingInner":0,"paddingOuter":0},"axis":null},"y":{"field":"r","type":"ordinal","bandPosition":0,"scale":{"type":"band","domain":["title","h1","h2","h3","main","phf","weak","moderate","strong","end"],"range":[-20,205.6],"paddingInner":0,"paddingOuter":0},"axis":null},"text":{"field":"v"}}},
{"data":{"name":"leg"},"mark":{"type":"point","shape":"M-1,0.28H-0.3V-0.16H0.3V0.28H1V0.77H-1Z","size":529,"filled":true,"opacity":1,"strokeWidth":0,"xOffset":-17},"encoding":{"x":{"field":"c","type":"ordinal","bandPosition":0,"scale":{"type":"band","domain":["Variable","V2","V3","N","Median","Lower","Upper","p","end"],"range":[261,844.9],"paddingInner":0,"paddingOuter":0},"axis":null},"y":{"field":"r","type":"ordinal","bandPosition":0.5,"scale":{"type":"band","domain":["title","h1","h2","h3","main","phf","weak","moderate","strong","end"],"range":[-20,205.6],"paddingInner":0,"paddingOuter":0},"axis":null},"color":{"field":"g","type":"nominal","scale":{"domain":["Weak","Moderate","Strong"],"range":["#2f4fa8","#e8382a","#4dbb17"]},"legend":null}}}
]}
],
"resolve":{"scale":{"x":"independent","y":"independent"}}}
],"spacing":94},
{"hconcat":[
{"width":532,"height":363,
"title":{"text":"b","anchor":"start","frame":"group","dx":-123,"dy":65,"offset":0,"baseline":"alphabetic","font":"Liberation Serif","fontSize":52,"fontWeight":"bold","color":"black"},
"layer":[
{"data":{"name":"km_b"},"mark":{"type":"line","interpolate":"step-after","strokeWidth":4},"encoding":{"x":{"field":"t","type":"quantitative","scale":{"domain":[0,100],"nice":false,"zero":false},"axis":{"orient":"bottom","values":[0,20,40,60,80,100],"title":"Time (Months)"}},"y":{"field":"s","type":"quantitative","scale":{"domain":[0,110],"nice":false,"zero":false},"axis":{"orient":"left","values":[0,50,100],"title":"PFS (%)"}},"color":{"field":"g","type":"nominal","scale":{"domain":["Weak","Moderate","Strong"],"range":["#2f4fa8","#e8382a","#4dbb17"]},"legend":null}}},
{"data":{"name":"cen_b"},"mark":{"type":"point","shape":"square","size":64,"filled":true,"opacity":1,"strokeWidth":0,"yOffset":-2},"encoding":{"x":{"field":"t","type":"quantitative","scale":{"domain":[0,100],"nice":false,"zero":false},"axis":{"orient":"top","title":"Early Stages","domain":false,"ticks":false,"labels":false,"titleFontSize":31,"titlePadding":48,"titleBaseline":"alphabetic"}},"y":{"field":"s","type":"quantitative","scale":{"domain":[0,110],"nice":false,"zero":false},"axis":{"orient":"left","values":[0,5,10,15,20,25,30,35,40,45,50,55,60,65,70,75,80,85,90,95,100,105,110],"labels":false,"title":null,"tickSize":7,"domain":false}},"color":{"field":"g","type":"nominal","scale":{"domain":["Weak","Moderate","Strong"],"range":["#2f4fa8","#e8382a","#4dbb17"]},"legend":null}}},
{"layer":[
{"data":{"name":"grid"},"mark":{"type":"rule","color":"#c8c8c8","strokeWidth":1.5},"encoding":{"x":{"field":"c0","type":"ordinal","bandPosition":0,"scale":{"type":"band","domain":["Variable","N","Median","Lower","Upper","p","end"],"range":[269,934.7],"paddingInner":0,"paddingOuter":0},"axis":null},"x2":{"field":"c1","bandPosition":0},"y":{"field":"r0","type":"ordinal","bandPosition":0,"scale":{"type":"band","domain":["title","h1","h2","h3","main","phf","weak","moderate","strong","end"],"range":[154.6,381.3],"paddingInner":0,"paddingOuter":0},"axis":null},"y2":{"field":"r1","bandPosition":0}}},
{"data":{"name":"border"},"mark":{"type":"rule","color":"black","strokeWidth":2.5},"encoding":{"x":{"field":"c0","type":"ordinal","bandPosition":0,"scale":{"type":"band","domain":["Variable","N","Median","Lower","Upper","p","end"],"range":[269,934.7],"paddingInner":0,"paddingOuter":0},"axis":null},"x2":{"field":"c1","bandPosition":0},"y":{"field":"r0","type":"ordinal","bandPosition":0,"scale":{"type":"band","domain":["title","h1","h2","h3","main","phf","weak","moderate","strong","end"],"range":[154.6,381.3],"paddingInner":0,"paddingOuter":0},"axis":null},"y2":{"field":"r1","bandPosition":0}}},
{"data":{"name":"txt_b"},"transform":[{"filter":"datum.k==='cell'"}],"mark":{"type":"text","font":"Liberation Sans","fontSize":17,"color":"black","align":"center","baseline":"middle"},"encoding":{"x":{"field":"c","type":"ordinal","bandPosition":0.5,"scale":{"type":"band","domain":["Variable","N","Median","Lower","Upper","p","end"],"range":[269,934.7],"paddingInner":0,"paddingOuter":0},"axis":null},"y":{"field":"r","type":"ordinal","bandPosition":0.5,"scale":{"type":"band","domain":["title","h1","h2","h3","main","phf","weak","moderate","strong","end"],"range":[154.6,381.3],"paddingInner":0,"paddingOuter":0},"axis":null},"text":{"field":"v"}}},
{"data":{"name":"txt_b"},"transform":[{"filter":"datum.k==='ci'"}],"mark":{"type":"text","font":"Liberation Sans","fontSize":17,"color":"black","align":"center","baseline":"middle"},"encoding":{"x":{"field":"c","type":"ordinal","bandPosition":0,"scale":{"type":"band","domain":["Variable","N","Median","Lower","Upper","p","end"],"range":[269,934.7],"paddingInner":0,"paddingOuter":0},"axis":null},"y":{"field":"r","type":"ordinal","bandPosition":0.5,"scale":{"type":"band","domain":["title","h1","h2","h3","main","phf","weak","moderate","strong","end"],"range":[154.6,381.3],"paddingInner":0,"paddingOuter":0},"axis":null},"text":{"field":"v"}}},
{"data":{"name":"txt_b"},"transform":[{"filter":"datum.k==='title'"}],"mark":{"type":"text","font":"Liberation Sans","fontSize":17,"fontWeight":"bold","color":"black","align":"center","baseline":"middle"},"encoding":{"x":{"field":"c","type":"ordinal","bandPosition":0,"scale":{"type":"band","domain":["Variable","N","Median","Lower","Upper","p","end"],"range":[269,934.7],"paddingInner":0,"paddingOuter":0},"axis":null},"y":{"field":"r","type":"ordinal","bandPosition":0.5,"scale":{"type":"band","domain":["title","h1","h2","h3","main","phf","weak","moderate","strong","end"],"range":[154.6,381.3],"paddingInner":0,"paddingOuter":0},"axis":null},"text":{"field":"v"}}},
{"data":{"name":"txt_b"},"transform":[{"filter":"datum.k==='pi'"}],"mark":{"type":"text","font":"Liberation Sans","fontSize":17,"fontStyle":"italic","color":"black","align":"center","baseline":"middle"},"encoding":{"x":{"field":"c","type":"ordinal","bandPosition":0.5,"scale":{"type":"band","domain":["Variable","N","Median","Lower","Upper","p","end"],"range":[269,934.7],"paddingInner":0,"paddingOuter":0},"axis":null},"y":{"field":"r","type":"ordinal","bandPosition":0.5,"scale":{"type":"band","domain":["title","h1","h2","h3","main","phf","weak","moderate","strong","end"],"range":[154.6,381.3],"paddingInner":0,"paddingOuter":0},"axis":null},"text":{"field":"v"}}},
{"data":{"name":"txt_b"},"transform":[{"filter":"datum.k==='main'"}],"mark":{"type":"text","font":"Liberation Sans","fontSize":17,"fontWeight":"bold","color":"black","align":"left","baseline":"middle","dx":4},"encoding":{"x":{"field":"c","type":"ordinal","bandPosition":0,"scale":{"type":"band","domain":["Variable","N","Median","Lower","Upper","p","end"],"range":[269,934.7],"paddingInner":0,"paddingOuter":0},"axis":null},"y":{"field":"r","type":"ordinal","bandPosition":0.5,"scale":{"type":"band","domain":["title","h1","h2","h3","main","phf","weak","moderate","strong","end"],"range":[154.6,381.3],"paddingInner":0,"paddingOuter":0},"axis":null},"text":{"field":"v"}}},
{"data":{"name":"txt_b"},"transform":[{"filter":"datum.k==='sub'"}],"mark":{"type":"text","font":"Liberation Sans","fontSize":17,"fontStyle":"italic","color":"black","align":"left","baseline":"middle","dx":4},"encoding":{"x":{"field":"c","type":"ordinal","bandPosition":0,"scale":{"type":"band","domain":["Variable","N","Median","Lower","Upper","p","end"],"range":[269,934.7],"paddingInner":0,"paddingOuter":0},"axis":null},"y":{"field":"r","type":"ordinal","bandPosition":0.5,"scale":{"type":"band","domain":["title","h1","h2","h3","main","phf","weak","moderate","strong","end"],"range":[154.6,381.3],"paddingInner":0,"paddingOuter":0},"axis":null},"text":{"field":"v"}}},
{"data":{"name":"txt_b"},"transform":[{"filter":"datum.k==='grp'"}],"mark":{"type":"text","font":"Liberation Sans","fontSize":17,"color":"black","align":"left","baseline":"middle","dx":17},"encoding":{"x":{"field":"c","type":"ordinal","bandPosition":0,"scale":{"type":"band","domain":["Variable","N","Median","Lower","Upper","p","end"],"range":[269,934.7],"paddingInner":0,"paddingOuter":0},"axis":null},"y":{"field":"r","type":"ordinal","bandPosition":0.5,"scale":{"type":"band","domain":["title","h1","h2","h3","main","phf","weak","moderate","strong","end"],"range":[154.6,381.3],"paddingInner":0,"paddingOuter":0},"axis":null},"text":{"field":"v"}}},
{"data":{"name":"txt_b"},"transform":[{"filter":"datum.k==='pval'"}],"mark":{"type":"text","font":"Liberation Sans","fontSize":17,"color":"black","align":"center","baseline":"middle"},"encoding":{"x":{"field":"c","type":"ordinal","bandPosition":0.5,"scale":{"type":"band","domain":["Variable","N","Median","Lower","Upper","p","end"],"range":[269,934.7],"paddingInner":0,"paddingOuter":0},"axis":null},"y":{"field":"r","type":"ordinal","bandPosition":0,"scale":{"type":"band","domain":["title","h1","h2","h3","main","phf","weak","moderate","strong","end"],"range":[154.6,381.3],"paddingInner":0,"paddingOuter":0},"axis":null},"text":{"field":"v"}}},
{"data":{"name":"leg"},"mark":{"type":"point","shape":"M-1,0.28H-0.3V-0.16H0.3V0.28H1V0.77H-1Z","size":529,"filled":true,"opacity":1,"strokeWidth":0,"xOffset":-17},"encoding":{"x":{"field":"c","type":"ordinal","bandPosition":0,"scale":{"type":"band","domain":["Variable","N","Median","Lower","Upper","p","end"],"range":[269,934.7],"paddingInner":0,"paddingOuter":0},"axis":null},"y":{"field":"r","type":"ordinal","bandPosition":0.5,"scale":{"type":"band","domain":["title","h1","h2","h3","main","phf","weak","moderate","strong","end"],"range":[154.6,381.3],"paddingInner":0,"paddingOuter":0},"axis":null},"color":{"field":"g","type":"nominal","scale":{"domain":["Weak","Moderate","Strong"],"range":["#2f4fa8","#e8382a","#4dbb17"]},"legend":null}}}
]}
],
"resolve":{"scale":{"x":"independent","y":"independent"}}},
{"width":557,"height":370,
"title":{"text":"e","anchor":"start","frame":"group","dx":-132,"dy":59,"offset":0,"baseline":"alphabetic","font":"Liberation Serif","fontSize":52,"fontWeight":"bold","color":"black"},
"layer":[
{"data":{"name":"km_e"},"mark":{"type":"line","interpolate":"step-after","strokeWidth":4},"encoding":{"x":{"field":"t","type":"quantitative","scale":{"domain":[0,150],"nice":false,"zero":false},"axis":{"orient":"bottom","values":[0,50,100,150],"title":"Time (Months)"}},"y":{"field":"s","type":"quantitative","scale":{"domain":[0,110],"nice":false,"zero":false},"axis":{"orient":"left","values":[0,50,100],"title":"OS (%)"}},"color":{"field":"g","type":"nominal","scale":{"domain":["Weak","Moderate","Strong"],"range":["#2f4fa8","#e8382a","#4dbb17"]},"legend":null}}},
{"data":{"name":"cen_e"},"mark":{"type":"point","shape":"square","size":64,"filled":true,"opacity":1,"strokeWidth":0,"yOffset":-2},"encoding":{"x":{"field":"t","type":"quantitative","scale":{"domain":[0,150],"nice":false,"zero":false},"axis":{"orient":"top","title":"Early stages","domain":false,"ticks":false,"labels":false,"titleFontSize":31,"titlePadding":49,"titleBaseline":"alphabetic"}},"y":{"field":"s","type":"quantitative","scale":{"domain":[0,110],"nice":false,"zero":false},"axis":{"orient":"left","values":[0,5,10,15,20,25,30,35,40,45,50,55,60,65,70,75,80,85,90,95,100,105,110],"labels":false,"title":null,"tickSize":7,"domain":false}},"color":{"field":"g","type":"nominal","scale":{"domain":["Weak","Moderate","Strong"],"range":["#2f4fa8","#e8382a","#4dbb17"]},"legend":null}}},
{"layer":[
{"data":{"name":"grid"},"mark":{"type":"rule","color":"#c8c8c8","strokeWidth":1.5},"encoding":{"x":{"field":"c0","type":"ordinal","bandPosition":0,"scale":{"type":"band","domain":["Variable","N","Median","Lower","Upper","p","end"],"range":[267.3,933.4],"paddingInner":0,"paddingOuter":0},"axis":null},"x2":{"field":"c1","bandPosition":0},"y":{"field":"r0","type":"ordinal","bandPosition":0,"scale":{"type":"band","domain":["title","h1","h2","h3","main","phf","weak","moderate","strong","end"],"range":[157,383.7],"paddingInner":0,"paddingOuter":0},"axis":null},"y2":{"field":"r1","bandPosition":0}}},
{"data":{"name":"border"},"mark":{"type":"rule","color":"black","strokeWidth":2.5},"encoding":{"x":{"field":"c0","type":"ordinal","bandPosition":0,"scale":{"type":"band","domain":["Variable","N","Median","Lower","Upper","p","end"],"range":[267.3,933.4],"paddingInner":0,"paddingOuter":0},"axis":null},"x2":{"field":"c1","bandPosition":0},"y":{"field":"r0","type":"ordinal","bandPosition":0,"scale":{"type":"band","domain":["title","h1","h2","h3","main","phf","weak","moderate","strong","end"],"range":[157,383.7],"paddingInner":0,"paddingOuter":0},"axis":null},"y2":{"field":"r1","bandPosition":0}}},
{"data":{"name":"txt_e"},"transform":[{"filter":"datum.k==='cell'"}],"mark":{"type":"text","font":"Liberation Sans","fontSize":17,"color":"black","align":"center","baseline":"middle"},"encoding":{"x":{"field":"c","type":"ordinal","bandPosition":0.5,"scale":{"type":"band","domain":["Variable","N","Median","Lower","Upper","p","end"],"range":[267.3,933.4],"paddingInner":0,"paddingOuter":0},"axis":null},"y":{"field":"r","type":"ordinal","bandPosition":0.5,"scale":{"type":"band","domain":["title","h1","h2","h3","main","phf","weak","moderate","strong","end"],"range":[157,383.7],"paddingInner":0,"paddingOuter":0},"axis":null},"text":{"field":"v"}}},
{"data":{"name":"txt_e"},"transform":[{"filter":"datum.k==='ci'"}],"mark":{"type":"text","font":"Liberation Sans","fontSize":17,"color":"black","align":"center","baseline":"middle"},"encoding":{"x":{"field":"c","type":"ordinal","bandPosition":0,"scale":{"type":"band","domain":["Variable","N","Median","Lower","Upper","p","end"],"range":[267.3,933.4],"paddingInner":0,"paddingOuter":0},"axis":null},"y":{"field":"r","type":"ordinal","bandPosition":0.5,"scale":{"type":"band","domain":["title","h1","h2","h3","main","phf","weak","moderate","strong","end"],"range":[157,383.7],"paddingInner":0,"paddingOuter":0},"axis":null},"text":{"field":"v"}}},
{"data":{"name":"txt_e"},"transform":[{"filter":"datum.k==='title'"}],"mark":{"type":"text","font":"Liberation Sans","fontSize":17,"fontWeight":"bold","color":"black","align":"center","baseline":"middle"},"encoding":{"x":{"field":"c","type":"ordinal","bandPosition":0,"scale":{"type":"band","domain":["Variable","N","Median","Lower","Upper","p","end"],"range":[267.3,933.4],"paddingInner":0,"paddingOuter":0},"axis":null},"y":{"field":"r","type":"ordinal","bandPosition":0.5,"scale":{"type":"band","domain":["title","h1","h2","h3","main","phf","weak","moderate","strong","end"],"range":[157,383.7],"paddingInner":0,"paddingOuter":0},"axis":null},"text":{"field":"v"}}},
{"data":{"name":"txt_e"},"transform":[{"filter":"datum.k==='pi'"}],"mark":{"type":"text","font":"Liberation Sans","fontSize":17,"fontStyle":"italic","color":"black","align":"center","baseline":"middle"},"encoding":{"x":{"field":"c","type":"ordinal","bandPosition":0.5,"scale":{"type":"band","domain":["Variable","N","Median","Lower","Upper","p","end"],"range":[267.3,933.4],"paddingInner":0,"paddingOuter":0},"axis":null},"y":{"field":"r","type":"ordinal","bandPosition":0.5,"scale":{"type":"band","domain":["title","h1","h2","h3","main","phf","weak","moderate","strong","end"],"range":[157,383.7],"paddingInner":0,"paddingOuter":0},"axis":null},"text":{"field":"v"}}},
{"data":{"name":"txt_e"},"transform":[{"filter":"datum.k==='main'"}],"mark":{"type":"text","font":"Liberation Sans","fontSize":17,"fontWeight":"bold","color":"black","align":"left","baseline":"middle","dx":4},"encoding":{"x":{"field":"c","type":"ordinal","bandPosition":0,"scale":{"type":"band","domain":["Variable","N","Median","Lower","Upper","p","end"],"range":[267.3,933.4],"paddingInner":0,"paddingOuter":0},"axis":null},"y":{"field":"r","type":"ordinal","bandPosition":0.5,"scale":{"type":"band","domain":["title","h1","h2","h3","main","phf","weak","moderate","strong","end"],"range":[157,383.7],"paddingInner":0,"paddingOuter":0},"axis":null},"text":{"field":"v"}}},
{"data":{"name":"txt_e"},"transform":[{"filter":"datum.k==='sub'"}],"mark":{"type":"text","font":"Liberation Sans","fontSize":17,"fontStyle":"italic","color":"black","align":"left","baseline":"middle","dx":4},"encoding":{"x":{"field":"c","type":"ordinal","bandPosition":0,"scale":{"type":"band","domain":["Variable","N","Median","Lower","Upper","p","end"],"range":[267.3,933.4],"paddingInner":0,"paddingOuter":0},"axis":null},"y":{"field":"r","type":"ordinal","bandPosition":0.5,"scale":{"type":"band","domain":["title","h1","h2","h3","main","phf","weak","moderate","strong","end"],"range":[157,383.7],"paddingInner":0,"paddingOuter":0},"axis":null},"text":{"field":"v"}}},
{"data":{"name":"txt_e"},"transform":[{"filter":"datum.k==='grp'"}],"mark":{"type":"text","font":"Liberation Sans","fontSize":17,"color":"black","align":"left","baseline":"middle","dx":17},"encoding":{"x":{"field":"c","type":"ordinal","bandPosition":0,"scale":{"type":"band","domain":["Variable","N","Median","Lower","Upper","p","end"],"range":[267.3,933.4],"paddingInner":0,"paddingOuter":0},"axis":null},"y":{"field":"r","type":"ordinal","bandPosition":0.5,"scale":{"type":"band","domain":["title","h1","h2","h3","main","phf","weak","moderate","strong","end"],"range":[157,383.7],"paddingInner":0,"paddingOuter":0},"axis":null},"text":{"field":"v"}}},
{"data":{"name":"txt_e"},"transform":[{"filter":"datum.k==='pval'"}],"mark":{"type":"text","font":"Liberation Sans","fontSize":17,"color":"black","align":"center","baseline":"middle"},"encoding":{"x":{"field":"c","type":"ordinal","bandPosition":0.5,"scale":{"type":"band","domain":["Variable","N","Median","Lower","Upper","p","end"],"range":[267.3,933.4],"paddingInner":0,"paddingOuter":0},"axis":null},"y":{"field":"r","type":"ordinal","bandPosition":0,"scale":{"type":"band","domain":["title","h1","h2","h3","main","phf","weak","moderate","strong","end"],"range":[157,383.7],"paddingInner":0,"paddingOuter":0},"axis":null},"text":{"field":"v"}}},
{"data":{"name":"leg"},"mark":{"type":"point","shape":"M-1,0.28H-0.3V-0.16H0.3V0.28H1V0.77H-1Z","size":529,"filled":true,"opacity":1,"strokeWidth":0,"xOffset":-17},"encoding":{"x":{"field":"c","type":"ordinal","bandPosition":0,"scale":{"type":"band","domain":["Variable","N","Median","Lower","Upper","p","end"],"range":[267.3,933.4],"paddingInner":0,"paddingOuter":0},"axis":null},"y":{"field":"r","type":"ordinal","bandPosition":0.5,"scale":{"type":"band","domain":["title","h1","h2","h3","main","phf","weak","moderate","strong","end"],"range":[157,383.7],"paddingInner":0,"paddingOuter":0},"axis":null},"color":{"field":"g","type":"nominal","scale":{"domain":["Weak","Moderate","Strong"],"range":["#2f4fa8","#e8382a","#4dbb17"]},"legend":null}}}
]}
],
"resolve":{"scale":{"x":"independent","y":"independent"}}}
],"spacing":24}
],"spacing":28},
{"hconcat":[
{"width":506,"height":337,
"title":{"text":"c","anchor":"start","frame":"group","dx":-121,"dy":39,"offset":0,"baseline":"alphabetic","font":"Liberation Serif","fontSize":52,"fontWeight":"bold","color":"black"},
"layer":[
{"data":{"name":"km_c"},"mark":{"type":"line","interpolate":"step-after","strokeWidth":4},"encoding":{"x":{"field":"t","type":"quantitative","scale":{"domain":[0,80],"nice":false,"zero":false},"axis":{"orient":"bottom","values":[0,20,40,60,80],"title":"Time (Months)"}},"y":{"field":"s","type":"quantitative","scale":{"domain":[0,110],"nice":false,"zero":false},"axis":{"orient":"left","values":[0,50,100],"title":"PFS (%)"}},"color":{"field":"g","type":"nominal","scale":{"domain":["Weak","Moderate","Strong"],"range":["#2f4fa8","#e8382a","#4dbb17"]},"legend":null}}},
{"data":{"name":"cen_c"},"mark":{"type":"point","shape":"square","size":64,"filled":true,"opacity":1,"strokeWidth":0,"yOffset":-2},"encoding":{"x":{"field":"t","type":"quantitative","scale":{"domain":[0,80],"nice":false,"zero":false},"axis":{"orient":"top","title":"Advanced Stages","domain":false,"ticks":false,"labels":false,"titleFontSize":32,"titlePadding":44,"titleBaseline":"alphabetic"}},"y":{"field":"s","type":"quantitative","scale":{"domain":[0,110],"nice":false,"zero":false},"axis":{"orient":"left","values":[0,5,10,15,20,25,30,35,40,45,50,55,60,65,70,75,80,85,90,95,100,105,110],"labels":false,"title":null,"tickSize":7,"domain":false}},"color":{"field":"g","type":"nominal","scale":{"domain":["Weak","Moderate","Strong"],"range":["#2f4fa8","#e8382a","#4dbb17"]},"legend":null}}},
{"layer":[
{"data":{"name":"grid"},"mark":{"type":"rule","color":"#c8c8c8","strokeWidth":1.5},"encoding":{"x":{"field":"c0","type":"ordinal","bandPosition":0,"scale":{"type":"band","domain":["Variable","N","Median","Lower","Upper","p","end"],"range":[264.6,930.1],"paddingInner":0,"paddingOuter":0},"axis":null},"x2":{"field":"c1","bandPosition":0},"y":{"field":"r0","type":"ordinal","bandPosition":0,"scale":{"type":"band","domain":["title","h1","h2","h3","main","phf","weak","moderate","strong","end"],"range":[-9.6,216.6],"paddingInner":0,"paddingOuter":0},"axis":null},"y2":{"field":"r1","bandPosition":0}}},
{"data":{"name":"border"},"mark":{"type":"rule","color":"black","strokeWidth":2.5},"encoding":{"x":{"field":"c0","type":"ordinal","bandPosition":0,"scale":{"type":"band","domain":["Variable","N","Median","Lower","Upper","p","end"],"range":[264.6,930.1],"paddingInner":0,"paddingOuter":0},"axis":null},"x2":{"field":"c1","bandPosition":0},"y":{"field":"r0","type":"ordinal","bandPosition":0,"scale":{"type":"band","domain":["title","h1","h2","h3","main","phf","weak","moderate","strong","end"],"range":[-9.6,216.6],"paddingInner":0,"paddingOuter":0},"axis":null},"y2":{"field":"r1","bandPosition":0}}},
{"data":{"name":"txt_c"},"transform":[{"filter":"datum.k==='cell'"}],"mark":{"type":"text","font":"Liberation Sans","fontSize":17,"color":"black","align":"center","baseline":"middle"},"encoding":{"x":{"field":"c","type":"ordinal","bandPosition":0.5,"scale":{"type":"band","domain":["Variable","N","Median","Lower","Upper","p","end"],"range":[264.6,930.1],"paddingInner":0,"paddingOuter":0},"axis":null},"y":{"field":"r","type":"ordinal","bandPosition":0.5,"scale":{"type":"band","domain":["title","h1","h2","h3","main","phf","weak","moderate","strong","end"],"range":[-9.6,216.6],"paddingInner":0,"paddingOuter":0},"axis":null},"text":{"field":"v"}}},
{"data":{"name":"txt_c"},"transform":[{"filter":"datum.k==='ci'"}],"mark":{"type":"text","font":"Liberation Sans","fontSize":17,"color":"black","align":"center","baseline":"middle"},"encoding":{"x":{"field":"c","type":"ordinal","bandPosition":0,"scale":{"type":"band","domain":["Variable","N","Median","Lower","Upper","p","end"],"range":[264.6,930.1],"paddingInner":0,"paddingOuter":0},"axis":null},"y":{"field":"r","type":"ordinal","bandPosition":0.5,"scale":{"type":"band","domain":["title","h1","h2","h3","main","phf","weak","moderate","strong","end"],"range":[-9.6,216.6],"paddingInner":0,"paddingOuter":0},"axis":null},"text":{"field":"v"}}},
{"data":{"name":"txt_c"},"transform":[{"filter":"datum.k==='title'"}],"mark":{"type":"text","font":"Liberation Sans","fontSize":17,"fontWeight":"bold","color":"black","align":"center","baseline":"middle"},"encoding":{"x":{"field":"c","type":"ordinal","bandPosition":0,"scale":{"type":"band","domain":["Variable","N","Median","Lower","Upper","p","end"],"range":[264.6,930.1],"paddingInner":0,"paddingOuter":0},"axis":null},"y":{"field":"r","type":"ordinal","bandPosition":0.5,"scale":{"type":"band","domain":["title","h1","h2","h3","main","phf","weak","moderate","strong","end"],"range":[-9.6,216.6],"paddingInner":0,"paddingOuter":0},"axis":null},"text":{"field":"v"}}},
{"data":{"name":"txt_c"},"transform":[{"filter":"datum.k==='pi'"}],"mark":{"type":"text","font":"Liberation Sans","fontSize":17,"fontStyle":"italic","color":"black","align":"center","baseline":"middle"},"encoding":{"x":{"field":"c","type":"ordinal","bandPosition":0.5,"scale":{"type":"band","domain":["Variable","N","Median","Lower","Upper","p","end"],"range":[264.6,930.1],"paddingInner":0,"paddingOuter":0},"axis":null},"y":{"field":"r","type":"ordinal","bandPosition":0.5,"scale":{"type":"band","domain":["title","h1","h2","h3","main","phf","weak","moderate","strong","end"],"range":[-9.6,216.6],"paddingInner":0,"paddingOuter":0},"axis":null},"text":{"field":"v"}}},
{"data":{"name":"txt_c"},"transform":[{"filter":"datum.k==='main'"}],"mark":{"type":"text","font":"Liberation Sans","fontSize":17,"fontWeight":"bold","color":"black","align":"left","baseline":"middle","dx":4},"encoding":{"x":{"field":"c","type":"ordinal","bandPosition":0,"scale":{"type":"band","domain":["Variable","N","Median","Lower","Upper","p","end"],"range":[264.6,930.1],"paddingInner":0,"paddingOuter":0},"axis":null},"y":{"field":"r","type":"ordinal","bandPosition":0.5,"scale":{"type":"band","domain":["title","h1","h2","h3","main","phf","weak","moderate","strong","end"],"range":[-9.6,216.6],"paddingInner":0,"paddingOuter":0},"axis":null},"text":{"field":"v"}}},
{"data":{"name":"txt_c"},"transform":[{"filter":"datum.k==='sub'"}],"mark":{"type":"text","font":"Liberation Sans","fontSize":17,"fontStyle":"italic","color":"black","align":"left","baseline":"middle","dx":4},"encoding":{"x":{"field":"c","type":"ordinal","bandPosition":0,"scale":{"type":"band","domain":["Variable","N","Median","Lower","Upper","p","end"],"range":[264.6,930.1],"paddingInner":0,"paddingOuter":0},"axis":null},"y":{"field":"r","type":"ordinal","bandPosition":0.5,"scale":{"type":"band","domain":["title","h1","h2","h3","main","phf","weak","moderate","strong","end"],"range":[-9.6,216.6],"paddingInner":0,"paddingOuter":0},"axis":null},"text":{"field":"v"}}},
{"data":{"name":"txt_c"},"transform":[{"filter":"datum.k==='grp'"}],"mark":{"type":"text","font":"Liberation Sans","fontSize":17,"color":"black","align":"left","baseline":"middle","dx":17},"encoding":{"x":{"field":"c","type":"ordinal","bandPosition":0,"scale":{"type":"band","domain":["Variable","N","Median","Lower","Upper","p","end"],"range":[264.6,930.1],"paddingInner":0,"paddingOuter":0},"axis":null},"y":{"field":"r","type":"ordinal","bandPosition":0.5,"scale":{"type":"band","domain":["title","h1","h2","h3","main","phf","weak","moderate","strong","end"],"range":[-9.6,216.6],"paddingInner":0,"paddingOuter":0},"axis":null},"text":{"field":"v"}}},
{"data":{"name":"txt_c"},"transform":[{"filter":"datum.k==='pval'"}],"mark":{"type":"text","font":"Liberation Sans","fontSize":17,"color":"black","align":"center","baseline":"middle"},"encoding":{"x":{"field":"c","type":"ordinal","bandPosition":0.5,"scale":{"type":"band","domain":["Variable","N","Median","Lower","Upper","p","end"],"range":[264.6,930.1],"paddingInner":0,"paddingOuter":0},"axis":null},"y":{"field":"r","type":"ordinal","bandPosition":0,"scale":{"type":"band","domain":["title","h1","h2","h3","main","phf","weak","moderate","strong","end"],"range":[-9.6,216.6],"paddingInner":0,"paddingOuter":0},"axis":null},"text":{"field":"v"}}},
{"data":{"name":"leg"},"mark":{"type":"point","shape":"M-1,0.28H-0.3V-0.16H0.3V0.28H1V0.77H-1Z","size":529,"filled":true,"opacity":1,"strokeWidth":0,"xOffset":-17},"encoding":{"x":{"field":"c","type":"ordinal","bandPosition":0,"scale":{"type":"band","domain":["Variable","N","Median","Lower","Upper","p","end"],"range":[264.6,930.1],"paddingInner":0,"paddingOuter":0},"axis":null},"y":{"field":"r","type":"ordinal","bandPosition":0.5,"scale":{"type":"band","domain":["title","h1","h2","h3","main","phf","weak","moderate","strong","end"],"range":[-9.6,216.6],"paddingInner":0,"paddingOuter":0},"axis":null},"color":{"field":"g","type":"nominal","scale":{"domain":["Weak","Moderate","Strong"],"range":["#2f4fa8","#e8382a","#4dbb17"]},"legend":null}}}
]}
],
"resolve":{"scale":{"x":"independent","y":"independent"}}},
{"width":506,"height":336,
"title":{"text":"f","anchor":"start","frame":"group","dx":-127,"dy":50,"offset":0,"baseline":"alphabetic","font":"Liberation Serif","fontSize":52,"fontWeight":"bold","color":"black"},
"layer":[
{"data":{"name":"km_f"},"mark":{"type":"line","interpolate":"step-after","strokeWidth":4},"encoding":{"x":{"field":"t","type":"quantitative","scale":{"domain":[0,200],"nice":false,"zero":false},"axis":{"orient":"bottom","values":[0,50,100,150,200],"title":"Time (Months)"}},"y":{"field":"s","type":"quantitative","scale":{"domain":[0,110],"nice":false,"zero":false},"axis":{"orient":"left","values":[0,50,100],"title":"OS (%)"}},"color":{"field":"g","type":"nominal","scale":{"domain":["Weak","Moderate","Strong"],"range":["#2f4fa8","#e8382a","#4dbb17"]},"legend":null}}},
{"data":{"name":"cen_f"},"mark":{"type":"point","shape":"square","size":64,"filled":true,"opacity":1,"strokeWidth":0,"yOffset":-2},"encoding":{"x":{"field":"t","type":"quantitative","scale":{"domain":[0,200],"nice":false,"zero":false},"axis":{"orient":"top","title":"Advanced stages","domain":false,"ticks":false,"labels":false,"titleFontSize":32,"titlePadding":44,"titleBaseline":"alphabetic"}},"y":{"field":"s","type":"quantitative","scale":{"domain":[0,110],"nice":false,"zero":false},"axis":{"orient":"left","values":[0,5,10,15,20,25,30,35,40,45,50,55,60,65,70,75,80,85,90,95,100,105,110],"labels":false,"title":null,"tickSize":7,"domain":false}},"color":{"field":"g","type":"nominal","scale":{"domain":["Weak","Moderate","Strong"],"range":["#2f4fa8","#e8382a","#4dbb17"]},"legend":null}}},
{"layer":[
{"data":{"name":"grid"},"mark":{"type":"rule","color":"#c8c8c8","strokeWidth":1.5},"encoding":{"x":{"field":"c0","type":"ordinal","bandPosition":0,"scale":{"type":"band","domain":["Variable","N","Median","Lower","Upper","p","end"],"range":[261,927.2],"paddingInner":0,"paddingOuter":0},"axis":null},"x2":{"field":"c1","bandPosition":0},"y":{"field":"r0","type":"ordinal","bandPosition":0,"scale":{"type":"band","domain":["title","h1","h2","h3","main","phf","weak","moderate","strong","end"],"range":[-15,211.7],"paddingInner":0,"paddingOuter":0},"axis":null},"y2":{"field":"r1","bandPosition":0}}},
{"data":{"name":"border"},"mark":{"type":"rule","color":"black","strokeWidth":2.5},"encoding":{"x":{"field":"c0","type":"ordinal","bandPosition":0,"scale":{"type":"band","domain":["Variable","N","Median","Lower","Upper","p","end"],"range":[261,927.2],"paddingInner":0,"paddingOuter":0},"axis":null},"x2":{"field":"c1","bandPosition":0},"y":{"field":"r0","type":"ordinal","bandPosition":0,"scale":{"type":"band","domain":["title","h1","h2","h3","main","phf","weak","moderate","strong","end"],"range":[-15,211.7],"paddingInner":0,"paddingOuter":0},"axis":null},"y2":{"field":"r1","bandPosition":0}}},
{"data":{"name":"txt_f"},"transform":[{"filter":"datum.k==='cell'"}],"mark":{"type":"text","font":"Liberation Sans","fontSize":17,"color":"black","align":"center","baseline":"middle"},"encoding":{"x":{"field":"c","type":"ordinal","bandPosition":0.5,"scale":{"type":"band","domain":["Variable","N","Median","Lower","Upper","p","end"],"range":[261,927.2],"paddingInner":0,"paddingOuter":0},"axis":null},"y":{"field":"r","type":"ordinal","bandPosition":0.5,"scale":{"type":"band","domain":["title","h1","h2","h3","main","phf","weak","moderate","strong","end"],"range":[-15,211.7],"paddingInner":0,"paddingOuter":0},"axis":null},"text":{"field":"v"}}},
{"data":{"name":"txt_f"},"transform":[{"filter":"datum.k==='ci'"}],"mark":{"type":"text","font":"Liberation Sans","fontSize":17,"color":"black","align":"center","baseline":"middle"},"encoding":{"x":{"field":"c","type":"ordinal","bandPosition":0,"scale":{"type":"band","domain":["Variable","N","Median","Lower","Upper","p","end"],"range":[261,927.2],"paddingInner":0,"paddingOuter":0},"axis":null},"y":{"field":"r","type":"ordinal","bandPosition":0.5,"scale":{"type":"band","domain":["title","h1","h2","h3","main","phf","weak","moderate","strong","end"],"range":[-15,211.7],"paddingInner":0,"paddingOuter":0},"axis":null},"text":{"field":"v"}}},
{"data":{"name":"txt_f"},"transform":[{"filter":"datum.k==='title'"}],"mark":{"type":"text","font":"Liberation Sans","fontSize":17,"fontWeight":"bold","color":"black","align":"center","baseline":"middle"},"encoding":{"x":{"field":"c","type":"ordinal","bandPosition":0,"scale":{"type":"band","domain":["Variable","N","Median","Lower","Upper","p","end"],"range":[261,927.2],"paddingInner":0,"paddingOuter":0},"axis":null},"y":{"field":"r","type":"ordinal","bandPosition":0.5,"scale":{"type":"band","domain":["title","h1","h2","h3","main","phf","weak","moderate","strong","end"],"range":[-15,211.7],"paddingInner":0,"paddingOuter":0},"axis":null},"text":{"field":"v"}}},
{"data":{"name":"txt_f"},"transform":[{"filter":"datum.k==='pi'"}],"mark":{"type":"text","font":"Liberation Sans","fontSize":17,"fontStyle":"italic","color":"black","align":"center","baseline":"middle"},"encoding":{"x":{"field":"c","type":"ordinal","bandPosition":0.5,"scale":{"type":"band","domain":["Variable","N","Median","Lower","Upper","p","end"],"range":[261,927.2],"paddingInner":0,"paddingOuter":0},"axis":null},"y":{"field":"r","type":"ordinal","bandPosition":0.5,"scale":{"type":"band","domain":["title","h1","h2","h3","main","phf","weak","moderate","strong","end"],"range":[-15,211.7],"paddingInner":0,"paddingOuter":0},"axis":null},"text":{"field":"v"}}},
{"data":{"name":"txt_f"},"transform":[{"filter":"datum.k==='main'"}],"mark":{"type":"text","font":"Liberation Sans","fontSize":17,"fontWeight":"bold","color":"black","align":"left","baseline":"middle","dx":4},"encoding":{"x":{"field":"c","type":"ordinal","bandPosition":0,"scale":{"type":"band","domain":["Variable","N","Median","Lower","Upper","p","end"],"range":[261,927.2],"paddingInner":0,"paddingOuter":0},"axis":null},"y":{"field":"r","type":"ordinal","bandPosition":0.5,"scale":{"type":"band","domain":["title","h1","h2","h3","main","phf","weak","moderate","strong","end"],"range":[-15,211.7],"paddingInner":0,"paddingOuter":0},"axis":null},"text":{"field":"v"}}},
{"data":{"name":"txt_f"},"transform":[{"filter":"datum.k==='sub'"}],"mark":{"type":"text","font":"Liberation Sans","fontSize":17,"fontStyle":"italic","color":"black","align":"left","baseline":"middle","dx":4},"encoding":{"x":{"field":"c","type":"ordinal","bandPosition":0,"scale":{"type":"band","domain":["Variable","N","Median","Lower","Upper","p","end"],"range":[261,927.2],"paddingInner":0,"paddingOuter":0},"axis":null},"y":{"field":"r","type":"ordinal","bandPosition":0.5,"scale":{"type":"band","domain":["title","h1","h2","h3","main","phf","weak","moderate","strong","end"],"range":[-15,211.7],"paddingInner":0,"paddingOuter":0},"axis":null},"text":{"field":"v"}}},
{"data":{"name":"txt_f"},"transform":[{"filter":"datum.k==='grp'"}],"mark":{"type":"text","font":"Liberation Sans","fontSize":17,"color":"black","align":"left","baseline":"middle","dx":17},"encoding":{"x":{"field":"c","type":"ordinal","bandPosition":0,"scale":{"type":"band","domain":["Variable","N","Median","Lower","Upper","p","end"],"range":[261,927.2],"paddingInner":0,"paddingOuter":0},"axis":null},"y":{"field":"r","type":"ordinal","bandPosition":0.5,"scale":{"type":"band","domain":["title","h1","h2","h3","main","phf","weak","moderate","strong","end"],"range":[-15,211.7],"paddingInner":0,"paddingOuter":0},"axis":null},"text":{"field":"v"}}},
{"data":{"name":"txt_f"},"transform":[{"filter":"datum.k==='pval'"}],"mark":{"type":"text","font":"Liberation Sans","fontSize":17,"color":"black","align":"center","baseline":"middle"},"encoding":{"x":{"field":"c","type":"ordinal","bandPosition":0.5,"scale":{"type":"band","domain":["Variable","N","Median","Lower","Upper","p","end"],"range":[261,927.2],"paddingInner":0,"paddingOuter":0},"axis":null},"y":{"field":"r","type":"ordinal","bandPosition":0,"scale":{"type":"band","domain":["title","h1","h2","h3","main","phf","weak","moderate","strong","end"],"range":[-15,211.7],"paddingInner":0,"paddingOuter":0},"axis":null},"text":{"field":"v"}}},
{"data":{"name":"leg"},"mark":{"type":"point","shape":"M-1,0.28H-0.3V-0.16H0.3V0.28H1V0.77H-1Z","size":529,"filled":true,"opacity":1,"strokeWidth":0,"xOffset":-17},"encoding":{"x":{"field":"c","type":"ordinal","bandPosition":0,"scale":{"type":"band","domain":["Variable","N","Median","Lower","Upper","p","end"],"range":[261,927.2],"paddingInner":0,"paddingOuter":0},"axis":null},"y":{"field":"r","type":"ordinal","bandPosition":0.5,"scale":{"type":"band","domain":["title","h1","h2","h3","main","phf","weak","moderate","strong","end"],"range":[-15,211.7],"paddingInner":0,"paddingOuter":0},"axis":null},"color":{"field":"g","type":"nominal","scale":{"domain":["Weak","Moderate","Strong"],"range":["#2f4fa8","#e8382a","#4dbb17"]},"legend":null}}}
]}
],
"resolve":{"scale":{"x":"independent","y":"independent"}}}
],"spacing":39}
],
"spacing":80
}
